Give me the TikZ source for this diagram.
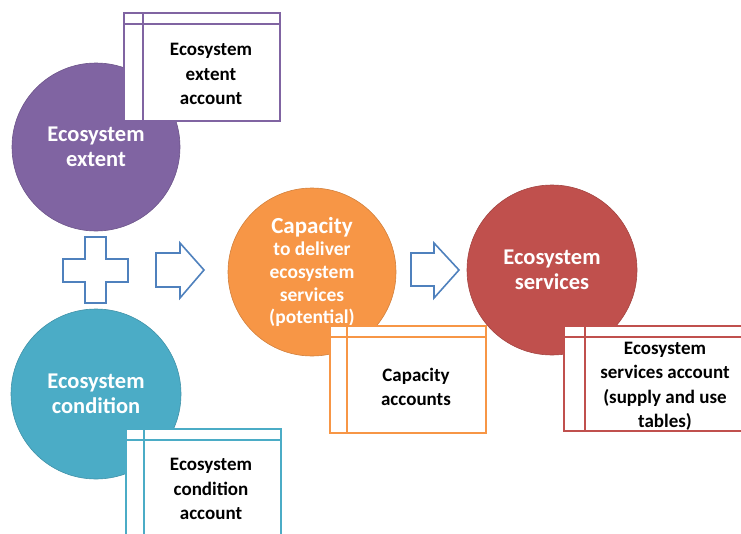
\documentclass[tikz,border=0pt]{standalone}
\usepackage{fontspec}
\setmainfont{Carlito}
\definecolor{cpurple}{HTML}{8064A2}
\definecolor{cteal}{HTML}{4BACC6}
\definecolor{corange}{HTML}{F79646}
\definecolor{cred}{HTML}{C0504D}
\definecolor{cblue}{HTML}{4F81BD}
\tikzset{
  circ/.style={circle, minimum size=#1, inner sep=0pt, align=center, text=white,
    font=\bfseries\fontsize{22.5}{25}\selectfont},
  acct/.style={rectangle, draw=#1, fill=white, line width=1.6pt, inner sep=0pt, anchor=north west},
  accttext/.style={align=center, text=black, font=\bfseries\fontsize{19}{24.5}\selectfont, inner sep=0pt},
  blueshape/.style={draw=cblue, line width=1.6pt, fill=white, line join=miter},
}
\newcommand{\hdr}[3]{% box name, column offset, colour
  \draw[line width=1.6pt, draw=#3] ([yshift=-12pt]#1.north west) -- ([yshift=-12pt]#1.north east);
  \draw[line width=1.6pt, draw=#3] ([xshift=#2]#1.north west) -- ([xshift=#2]#1.south west);
}
\begin{document}
\begin{tikzpicture}[x=1pt,y=-1pt]
\useasboundingbox (0,0) rectangle (741,533);
\clip (0,0) rectangle (741,533);

% circles
\node[circ=168pt, fill=cpurple, draw=cpurple!85!black, line width=0.6pt] (extent) at (96,147) {Ecosystem\\extent};
\node[circ=170pt, fill=cteal, draw=cteal!85!black, line width=0.6pt] (cond) at (96,394) {Ecosystem\\condition};
\node[circ=168pt, fill=corange, draw=corange!85!black, line width=0.6pt] (cap) at (312,272) {};
\node[align=center, text=white, inner sep=0pt, font=\bfseries\fontsize{19.5}{22.7}\selectfont] (captxt) at (312,272)
  {{\fontsize{23}{22.7}\selectfont Capacity}\\to deliver\\ecosystem\\services\\(potential)};
\node[circ=170pt, fill=cred, draw=cred!85!black, line width=0.6pt] (serv) at (552,270) {Ecosystem\\services};

% plus sign
\draw[blueshape] (85,237) -- (106,237) -- (106,259) -- (128,259) -- (128,282) -- (106,282)
  -- (106,303) -- (85,303) -- (85,282) -- (63,282) -- (63,259) -- (85,259) -- cycle;
\coordinate (plus) at (95.5,270);

% arrows
\draw[blueshape] (156,253) -- (180,253) -- (180,243) -- (204,270) -- (180,298) -- (180,287) -- (156,287) -- cycle;
\coordinate (arrowA) at (180,270);
\draw[blueshape] (411,253) -- (434,253) -- (434,243) -- (459,270) -- (434,298) -- (434,286) -- (411,286) -- cycle;
\coordinate (arrowB) at (434,270);

% account boxes
\node[acct=cpurple, minimum width=156pt, minimum height=108pt] (extbox) at (123,12) {};
\hdr{extbox}{20pt}{cpurple}
\node[accttext] (exttxt) at (211,74) {Ecosystem\\extent\\account};

\node[acct=cteal, minimum width=155pt, minimum height=120pt] (condbox) at (125,428) {};
\hdr{condbox}{19pt}{cteal}
\node[accttext] (condtxt) at (211,489) {Ecosystem\\condition\\account};

\node[acct=corange, minimum width=156pt, minimum height=107pt] (capbox) at (329,325) {};
\hdr{capbox}{18pt}{corange}
\node[accttext] (captbl) at (416,387) {Capacity\\accounts};

\node[acct=cred, minimum width=190pt, minimum height=105pt] (servbox) at (563,325) {};
\hdr{servbox}{22pt}{cred}
\node[accttext] (servtxt) at (665,386.5) {Ecosystem\\services account\\(supply and use\\tables)};
\end{tikzpicture}
\end{document}
